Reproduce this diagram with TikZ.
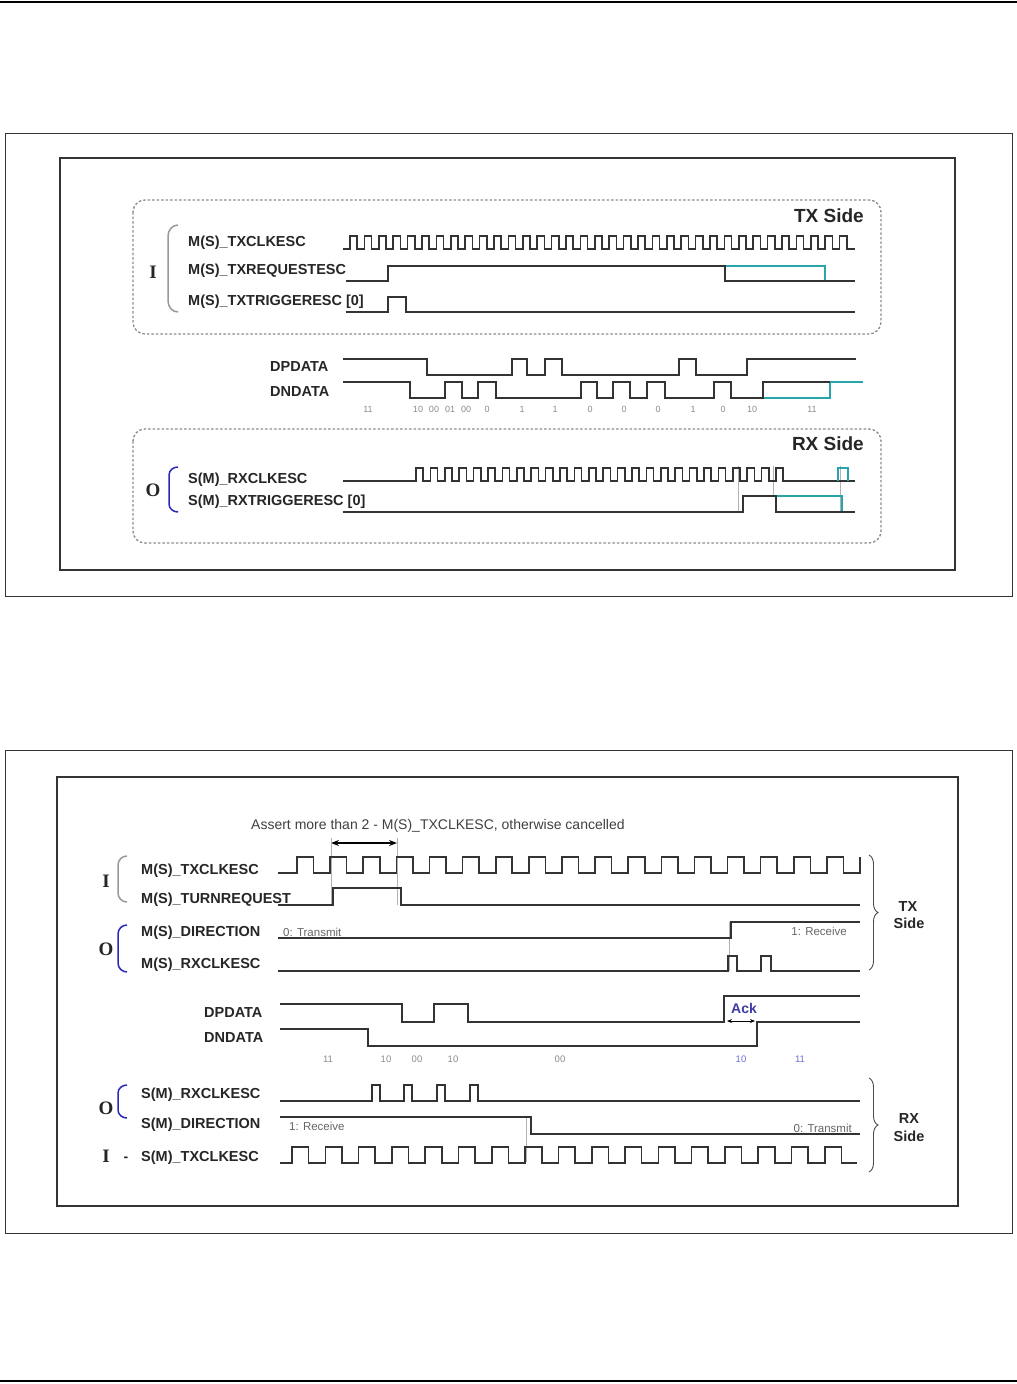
\documentclass[tikz,border=0pt]{standalone}
\usepackage{fontspec}
\setmainfont{Liberation Sans}
\newfontfamily\serifbold{Liberation Serif}
\usetikzlibrary{decorations.pathreplacing,arrows.meta}
\definecolor{tealc}{RGB}{40,165,170}
\definecolor{ioblue}{RGB}{40,40,185}
\definecolor{ackblue}{RGB}{60,60,165}
\definecolor{bitblue}{RGB}{110,110,215}
\begin{document}
\begin{tikzpicture}[x=1pt,y=-1pt,
 sig/.style={line width=1.6pt,draw=black!80,line join=miter},
 alt/.style={line width=1.6pt,draw=tealc},
 guide/.style={line width=0.5pt,draw=black!30},
 lab/.style={font=\fontsize{14.5}{16}\selectfont\bfseries,text=black!85,anchor=base west,inner sep=0pt},
 side/.style={font=\fontsize{19}{21}\selectfont\bfseries,text=black!85,anchor=base east,inner sep=0pt},
 sidetwo/.style={font=\fontsize{14.5}{16}\selectfont\bfseries,text=black!85,anchor=base,inner sep=0pt},
 bits/.style={font=\fontsize{9}{10}\selectfont,text=black!45,anchor=base,inner sep=0pt},
 bitstwo/.style={font=\fontsize{9.5}{10}\selectfont,text=black!45,anchor=base,inner sep=0pt},
 note/.style={font=\fontsize{11.5}{13}\selectfont,text=black!60,anchor=base west,inner sep=0pt},
 io/.style={font=\fontsize{19}{20}\selectfont\serifbold\bfseries,text=black!85,anchor=base,inner sep=0pt},
 grpbox/.style={draw=black!45,line width=1.3pt,dash pattern=on 2.5pt off 2pt,rounded corners=12pt},
 graybr/.style={draw=black!40,line width=1.5pt},
 bluebr/.style={draw=ioblue,line width=1.5pt},
 rbrace/.style={draw=black!70,line width=0.9pt,decorate,decoration={brace,amplitude=9pt}},
 outerbox/.style={draw=black!80,line width=1pt},
 innerbox/.style={draw=black!80,line width=2pt}]
\useasboundingbox (0,0) rectangle (1017,1384);
\fill[white] (0,0) rectangle (1017,1384);
% page rules
\draw[line width=2.5pt,black] (0,2) -- (1017,2);
\draw[line width=2.5pt,black] (0,1381) -- (1017,1381);

% ================= Figure 1 =================
\draw[outerbox] (5,133) rectangle (1012,596);
\draw[innerbox] (60,158) rectangle (955,570);
\draw[grpbox] (133,200) rectangle (881,334);
\draw[grpbox] (133,429) rectangle (881,543);
\node[side] (txside) at (864,222) {TX Side};
\node[side] (rxside) at (864,450) {RX Side};
\node[io] (ione) at (153,278) {I};
\node[io] (oone) at (153,496) {O};
\draw[graybr] (178,225) to[out=180,in=90] (168,236) -- (168,301) to[out=-90,in=180] (178,312);
\draw[bluebr] (178,467) to[out=180,in=90] (169,475) -- (169,504) to[out=-90,in=180] (178,512);
\node[lab] (ltxclk) at (188,246.5) {M(S)\_TXCLKESC};
\node[lab] (ltxreq) at (188,274.5) {M(S)\_TXREQUESTESC};
\node[lab] (ltxtrg) at (188,305) {M(S)\_TXTRIGGERESC [0]};
\node[lab] (ldp) at (270,371) {DPDATA};
\node[lab] (ldn) at (270,396.5) {DNDATA};
\node[lab] (lrxclk) at (188,483) {S(M)\_RXCLKESC};
\node[lab] (lrxtrg) at (188,505.5) {S(M)\_RXTRIGGERESC [0]};

% TX clock
\draw[sig] (343,249) -- (350,249)
  \foreach \k in {0,...,34} { -- ({350+\k*14.4},249) -- ({350+\k*14.4},236) -- ({357.2+\k*14.4},236) -- ({357.2+\k*14.4},249) }
  -- (855,249);
% TX request
\draw[alt] (725,266) -- (825,266) -- (825,281);
\draw[sig] (346,281) -- (388,281) -- (388,266) -- (725,266) -- (725,281) -- (855,281);
% TX trigger
\draw[sig] (346,312) -- (388,312) -- (388,297) -- (406,297) -- (406,312) -- (855,312);
% DPDATA
\draw[sig] (343,359) -- (427,359) -- (427,375) -- (512,375) -- (512,359) -- (527,359) -- (527,375) -- (545,375) -- (545,359) -- (562,359) -- (562,375) -- (679,375) -- (679,359) -- (696,359) -- (696,375) -- (747,375) -- (747,359) -- (856,359);
% DNDATA
\draw[alt] (763,398) -- (830,398) -- (830,382) -- (863,382);
\draw[sig] (343,382) -- (410,382) -- (410,398) -- (445,398) -- (445,382) -- (462,382) -- (462,398) -- (478,398) -- (478,382) -- (496,382) -- (496,398) -- (581,398) -- (581,382) -- (597,382) -- (597,398) -- (613,398) -- (613,382) -- (630,382) -- (630,398) -- (647,398) -- (647,382) -- (665,382) -- (665,398) -- (714,398) -- (714,382) -- (731,382) -- (731,398) -- (763,398) -- (763,382) -- (830,382);
% bit labels
\foreach \x/\t [count=\i] in {368/11,418/10,434/00,450/01,466/00,487/0,522/1,555/1,590/0,624/0,658/0,693/1,723/0,752/10,812/11}
  \node[bits] (bA\i) at (\x,412) {\t};
% RX clock
\draw[guide] (738,466) -- (738,512);
\draw[guide] (773,466) -- (773,496);
\draw[guide] (840,466) -- (840,512);
\draw[sig] (343,481) -- (416,481)
  \foreach \k in {0,...,25} { -- ({416+\k*14.4},481) -- ({416+\k*14.4},468) -- ({423.2+\k*14.4},468) -- ({423.2+\k*14.4},481) }
  -- (855,481);
\draw[alt] (838,481) -- (838,468) -- (848,468) -- (848,481);
% RX trigger
\draw[alt] (776,496) -- (842,496) -- (842,512);
\draw[sig] (343,512) -- (743,512) -- (743,496) -- (776,496) -- (776,512) -- (855,512);

% ================= Figure 2 =================
\draw[outerbox] (5,750) rectangle (1012,1233);
\draw[innerbox] (57,777) rectangle (958,1206);
\node[anchor=base west,inner sep=0pt,font=\fontsize{14}{16}\selectfont,text=black!75] (assert) at (251,829.5) {Assert more than 2 - M(S)\_TXCLKESC, otherwise cancelled};
\coordinate (aL) at (331,843);
\coordinate (aR) at (397,843);
\draw[line width=1.3pt,black,{Stealth[length=8pt,width=6pt]}-{Stealth[length=8pt,width=6pt]}] (aL) -- (aR);
\draw[guide] (331,838) -- (331,905);
\draw[guide] (397,838) -- (397,905);
\draw[guide] (729,922) -- (729,971);
\draw[guide] (526,1117) -- (526,1162);

\node[io] (itwo) at (106,887) {I};
\node[io] (otwo) at (106,955) {O};
\node[io] (othree) at (106,1114) {O};
\node[io] (ifour) at (106,1162) {I};
\node[anchor=base,inner sep=0pt,font=\fontsize{14}{16}\selectfont\bfseries,text=black!85] (dash) at (126,1161) {-};
\draw[graybr] (127,856) to[out=180,in=90] (118,865) -- (118,893) to[out=-90,in=180] (127,902);
\draw[bluebr] (127,925) to[out=180,in=90] (118,934) -- (118,963) to[out=-90,in=180] (127,972);
\draw[bluebr] (127,1085) to[out=180,in=90] (118,1093) -- (118,1110) to[out=-90,in=180] (127,1118);

\node[lab] (ltxclkb) at (141,874) {M(S)\_TXCLKESC};
\node[lab] (lturn) at (141,903) {M(S)\_TURNREQUEST};
\node[lab] (ldir) at (141,936.5) {M(S)\_DIRECTION};
\node[lab] (lrxclkb) at (141,968) {M(S)\_RXCLKESC};
\node[lab] (ldpb) at (204,1017.5) {DPDATA};
\node[lab] (ldnb) at (204,1042.5) {DNDATA};
\node[lab] (lsrx) at (141,1098) {S(M)\_RXCLKESC};
\node[lab] (lsdir) at (141,1128.5) {S(M)\_DIRECTION};
\node[lab] (lstx) at (141,1161) {S(M)\_TXCLKESC};

% TX clock fig2
\draw[sig] (278,873) -- (297,873)
  \foreach \k in {0,...,16} { -- ({297+\k*33.12},873) -- ({297+\k*33.12},857) -- ({313.56+\k*33.12},857) -- ({313.56+\k*33.12},873) }
  -- (860,873) -- (860,857);
% turn request
\draw[sig] (278,905) -- (333,905) -- (333,888) -- (401,888) -- (401,905) -- (860,905);
% direction
\draw[sig] (278,938) -- (731,938) -- (731,922) -- (860,922);
\node[note] (tx0) at (283,936) {0: Transmit};
\node[note,anchor=base east] (rx1) at (847,935) {1: Receive};
% rx clk
\draw[sig] (278,971) -- (728,971) -- (728,956) -- (737,956) -- (737,971) -- (761,971) -- (761,956) -- (771,956) -- (771,971) -- (860,971);
\draw[rbrace] (869,855) -- (869,970);
\node[sidetwo] (txs2a) at (908,911) {TX};
\node[sidetwo] (txs2b) at (909,928) {Side};

% DPDATA / DNDATA fig2
\draw[sig] (280,1004) -- (402,1004) -- (402,1022) -- (434,1022) -- (434,1004) -- (468,1004) -- (468,1022) -- (724,1022) -- (724,996) -- (860,996);
\draw[sig] (280,1029) -- (368,1029) -- (368,1046) -- (757,1046) -- (757,1022) -- (860,1022);
\node[anchor=base west,inner sep=0pt,font=\fontsize{14}{16}\selectfont\bfseries,text=ackblue] (ack) at (731,1013) {Ack};
\coordinate (ackL) at (727,1021);
\coordinate (ackR) at (755,1021);
\draw[line width=0.8pt,black,{Stealth[length=5pt,width=4pt]}-{Stealth[length=5pt,width=4pt]}] (ackL) -- (ackR);
\foreach \x/\t [count=\i] in {328/11,386/10,417/00,453/10,560/00}
  \node[bitstwo] (bB\i) at (\x,1062) {\t};
\node[bitstwo,text=bitblue] (bB6) at (741,1062) {10};
\node[bitstwo,text=bitblue] (bB7) at (800,1062) {11};

% RX side fig2
\draw[sig] (280,1101) -- (372,1101) -- (372,1085) -- (380,1085) -- (380,1101) -- (404,1101) -- (404,1085) -- (412,1085) -- (412,1101) -- (437,1101) -- (437,1085) -- (445,1085) -- (445,1101) -- (470,1101) -- (470,1085) -- (478,1085) -- (478,1101) -- (860,1101);
\draw[sig] (280,1117) -- (531,1117) -- (531,1134) -- (860,1134);
\node[note] (rx1b) at (289,1130) {1: Receive};
\node[note,anchor=base east] (tx0b) at (852,1132) {0: Transmit};
\draw[sig] (280,1163) -- (292,1163)
  \foreach \k in {0,...,16} { -- ({292+\k*33.3},1163) -- ({292+\k*33.3},1147) -- ({308.65+\k*33.3},1147) -- ({308.65+\k*33.3},1163) }
  -- (857,1163);
\draw[rbrace] (869,1078) -- (869,1172);
\node[sidetwo] (rxs2a) at (909,1123) {RX};
\node[sidetwo] (rxs2b) at (909,1141) {Side};
\end{tikzpicture}
\end{document}
